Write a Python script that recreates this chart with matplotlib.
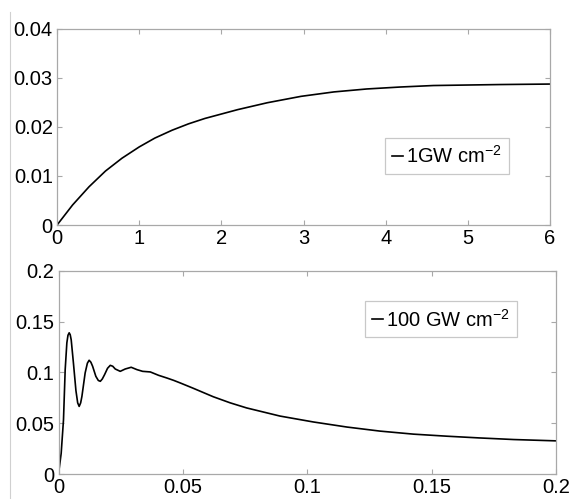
import matplotlib

matplotlib.use("Agg")
import matplotlib.pyplot as plt
from matplotlib.lines import Line2D

plt.rcParams["font.family"] = ["Liberation Sans", "DejaVu Sans"]
plt.rcParams["mathtext.default"] = "regular"

# top panel: 1 GW cm^-2
LOW_X = [0.0, 0.19, 0.39, 0.59, 0.79, 1.0, 1.19, 1.40, 1.60, 1.80, 2.0, 2.2,
         2.56, 2.97, 3.37, 3.77, 4.18, 4.58, 4.98, 5.39, 6.0]
LOW_Y = [0.0, 0.0041, 0.0078, 0.0110, 0.0136, 0.0159, 0.0177, 0.0193, 0.0206,
         0.0217, 0.0226, 0.0235, 0.0249, 0.0262, 0.0271, 0.0277, 0.0281,
         0.0284, 0.0285, 0.0286, 0.0287]
LOW_LABEL = "1GW cm$^{-2}$"
LOW_XTICKS = [0, 1, 2, 3, 4, 5, 6]
LOW_YTICKS = [0, 0.01, 0.02, 0.03, 0.04]
LOW_YTICKLABELS = ["0", "0.01", "0.02", "0.03", "0.04"]

# bottom panel: 100 GW cm^-2
HIGH_X = [0.0, 0.00107, 0.0020, 0.00268, 0.00335, 0.0038, 0.00429, 0.0047,
          0.0051, 0.0060, 0.0070, 0.0077, 0.0083, 0.0089, 0.0094, 0.0107,
          0.0116, 0.0123, 0.0130, 0.0137, 0.0150, 0.0160, 0.0168, 0.0176,
          0.0185, 0.0197, 0.0208, 0.0218, 0.0228, 0.0248, 0.0268, 0.0292,
          0.0315, 0.0338, 0.0369, 0.0402, 0.0436, 0.0463, 0.0490, 0.0540,
          0.0622, 0.0690, 0.0756, 0.0890, 0.1024, 0.1159, 0.1292, 0.1427,
          0.156, 0.169, 0.183, 0.2]
HIGH_Y = [0.0, 0.0204, 0.0533, 0.1027, 0.1290, 0.1365, 0.1389, 0.1370,
          0.1320, 0.1090, 0.0820, 0.0700, 0.0665, 0.0700, 0.0763, 0.0994,
          0.1090, 0.1119, 0.1100, 0.1060, 0.0961, 0.0920, 0.0912, 0.0935,
          0.0977, 0.1040, 0.1069, 0.1060, 0.1033, 0.1010, 0.1033, 0.1050,
          0.1027, 0.1010, 0.1004, 0.0971, 0.0944, 0.0921, 0.0895, 0.0845,
          0.0760, 0.0700, 0.0650, 0.0570, 0.0512, 0.0462, 0.0422, 0.0392,
          0.0372, 0.0355, 0.0339, 0.0326]
HIGH_LABEL = "100 GW cm$^{-2}$"
HIGH_TICKS = [0, 0.05, 0.1, 0.15, 0.2]
HIGH_TICKLABELS = ["0", "0.05", "0.1", "0.15", "0.2"]

SPINE_COLOR = "#a8a8a8"
FONT_SIZE = 14.5


def style_axes(ax: plt.Axes) -> None:
    for spine in ax.spines.values():
        spine.set_color(SPINE_COLOR)
        spine.set_linewidth(0.9)
    ax.tick_params(direction="in", length=3.5, width=0.8, color=SPINE_COLOR,
                   labelsize=FONT_SIZE, labelcolor="black", pad=3,
                   top=True, right=True)


def add_legend(ax: plt.Axes, anchor: tuple[float, float]) -> None:
    leg = ax.legend(loc="center", bbox_to_anchor=anchor, fontsize=FONT_SIZE,
                    handlelength=0.55, handletextpad=0.15, borderpad=0.35,
                    fancybox=False, framealpha=1.0, borderaxespad=0)
    leg.get_frame().set_edgecolor("#c8c8c8")
    leg.get_frame().set_linewidth(0.9)


fig = plt.figure(figsize=(5.72, 4.99), dpi=100)

ax1 = fig.add_axes([0.0997, 0.549, 0.8619, 0.3938])
ax1.plot(LOW_X, LOW_Y, color="black", linewidth=1.2, label=LOW_LABEL)
ax1.set_xlim(0, 6)
ax1.set_ylim(0, 0.04)
ax1.set_xticks(LOW_XTICKS)
ax1.set_yticks(LOW_YTICKS)
ax1.set_yticklabels(LOW_YTICKLABELS)
style_axes(ax1)
add_legend(ax1, (0.79, 0.351))

ax2 = fig.add_axes([0.1023, 0.0501, 0.870, 0.4074])
ax2.plot(HIGH_X, HIGH_Y, color="black", linewidth=1.2, label=HIGH_LABEL)
ax2.set_xlim(0, 0.2)
ax2.set_ylim(0, 0.2)
ax2.set_xticks(HIGH_TICKS)
ax2.set_xticklabels(HIGH_TICKLABELS)
ax2.set_yticks(HIGH_TICKS)
ax2.set_yticklabels(HIGH_TICKLABELS)
style_axes(ax2)
add_legend(ax2, (0.769, 0.76))

# thin frame line at the left edge of the screenshot
fig.add_artist(Line2D([10 / 572, 10 / 572], [0, 1 - 12 / 499],
                      transform=fig.transFigure, color="#d0d0d0", linewidth=0.8))

fig.savefig("out.png", dpi=100)
